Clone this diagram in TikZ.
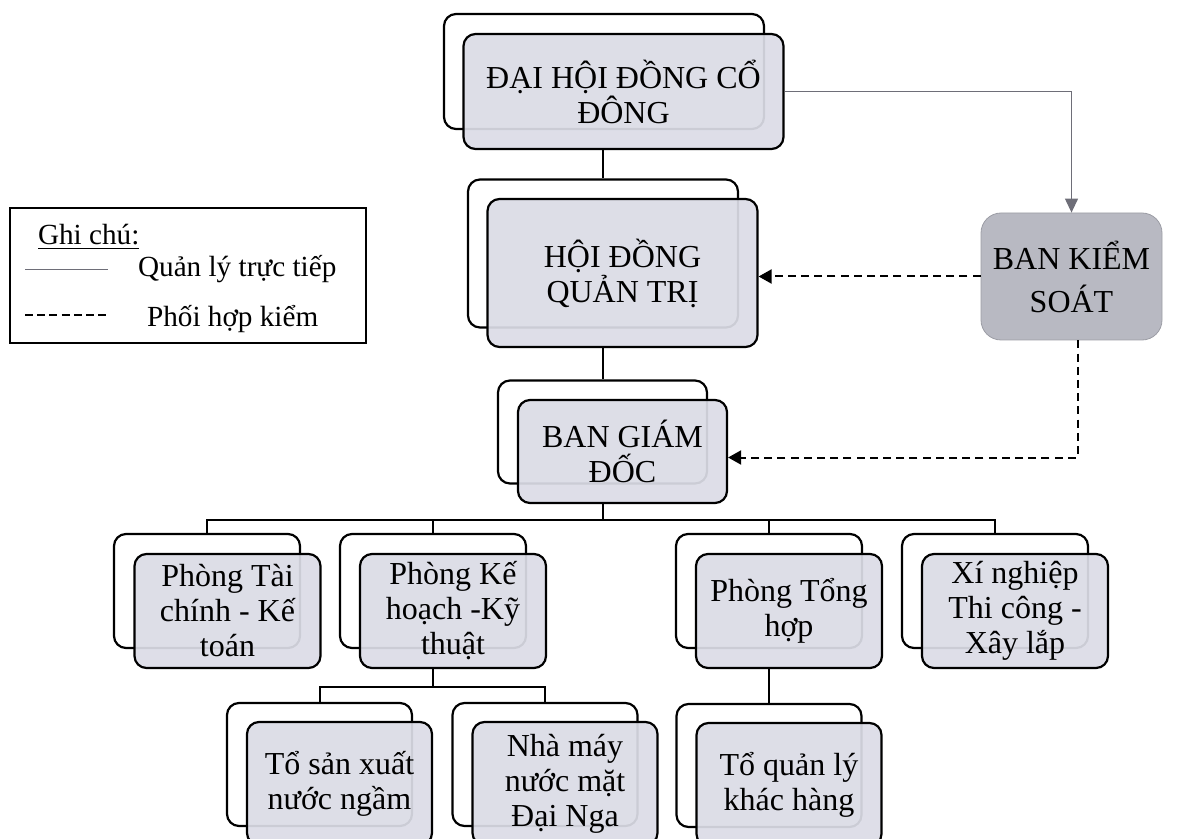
\documentclass[tikz,border=0pt]{standalone}
\usepackage{fontspec}
\setmainfont{Liberation Serif}
\usetikzlibrary{arrows.meta}
\definecolor{boxgray}{RGB}{219,220,230}
\definecolor{ctrlgray}{RGB}{184,185,194}
\definecolor{thinline}{RGB}{110,110,120}
\tikzset{
    backbox/.style 2 args={draw, line width=1.1pt, rounded corners=6pt, fill=white,
        minimum width=#1, minimum height=#2, inner sep=0pt},
    frontbox/.style 2 args={backbox={#1}{#2}, fill=boxgray, fill opacity=0.93, text opacity=1,
        align=center, font=\fontsize{16}{17.5}\selectfont},
    link/.style={line width=1pt},
    coord/.style={line width=1pt, dash pattern=on 4pt off 2.6pt, -{Triangle[width=7pt,length=6.5pt]}},
    direct/.style={line width=0.6pt, thinline, -{Triangle[width=6.5pt,length=7pt]}}
}

\begin{document}
\begin{tikzpicture}[x=0.5pt,y=-0.5pt]
            \useasboundingbox (0,0) rectangle (1188,839);
            \clip (0,0) rectangle (1188,839);

            % Legend
            \node[draw, line width=1pt, minimum width=178pt, minimum height=67.5pt] (legend) at (188,275.5) {};
            \node[anchor=base west, font=\fontsize{14.6}{16}\selectfont] (ghichu) at (31,245) {\underline{Ghi chú:}};
            \node[anchor=base west, font=\fontsize{14.6}{16}\selectfont] (quanly) at (131,277) {Quản lý trực tiếp};
            \node[anchor=base west, font=\fontsize{14.6}{16}\selectfont] (phoihop) at (140,327) {Phối hợp kiểm};
            \coordinate (ql1) at (25,270);
            \coordinate (ph1) at (25,315);
            \draw[thinline, line width=0.5pt] (ql1) -- ++(83,0);
            \draw[link, dash pattern=on 4pt off 2.1pt] (ph1) -- ++(85,0);

            % Top levels
            \node[backbox={160pt}{57.5pt}] (dhdcdB) at (604,71.5) {};
            \node[frontbox={160pt}{57.5pt}] (dhdcd) at (623.5,91.5) {ĐẠI HỘI ĐỒNG CỔ\\ĐÔNG};
            \node[backbox={135pt}{74pt}] (hdqtB) at (603,253.5) {};
            \node[frontbox={135pt}{74pt}] (hdqt) at (622.5,273) {HỘI ĐỒNG\\QUẢN TRỊ};
            \node[backbox={104.5pt}{51.5pt}] (bgdB) at (602.5,432) {};
            \node[frontbox={104.5pt}{51.5pt}] (bgd) at (622.5,451.5) {BAN GIÁM\\ĐỐC};
            \node[draw=ctrlgray!85!black, line width=0.4pt, fill=ctrlgray, rounded corners=10pt,
                minimum width=90.5pt, minimum height=63.5pt, align=center,
                font=\fontsize{16}{21.5}\selectfont] (bks) at (1071.5,276.5) {BAN KIỂM\\SOÁT};

            % Departments
            \node[backbox={93pt}{57pt}] (tcB) at (207,591) {};
            \node[frontbox={93pt}{57pt}] (tc) at (227.5,611) {Phòng Tài\\chính - Kế\\toán};
            \node[backbox={93pt}{57pt}] (khB) at (433,591) {};
            \node[frontbox={93pt}{57pt}] (kh) at (453,611) {Phòng Kế\\hoạch -Kỹ\\thuật};
            \node[backbox={93pt}{57pt}] (thB) at (769,591) {};
            \node[frontbox={93pt}{57pt}] (th) at (789,611) {Phòng Tổng\\hợp};
            \node[backbox={93pt}{57pt}] (xnB) at (995,591) {};
            \node[frontbox={93pt}{57pt}] (xn) at (1015,611) {Xí nghiệp\\Thi công -\\Xây lắp};

            % Units
            \node[backbox={92.5pt}{61.5pt}] (sxB) at (319.5,764.5) {};
            \node[frontbox={92.5pt}{61.5pt}] (sx) at (339.5,783.5) {Tổ sản xuất\\nước ngầm};
            \node[backbox={92.5pt}{61.5pt}] (nmB) at (545,764.5) {};
            \node[frontbox={92.5pt}{61.5pt}] (nm) at (565,783.5) {Nhà máy\\nước mặt\\Đại Nga};
            \node[backbox={92.5pt}{61.5pt}] (qlB) at (769,765.5) {};
            \node[frontbox={92.5pt}{61.5pt}] (ql) at (789,784.5) {Tổ quản lý\\khác hàng};

            % Direct management
            \draw[link] (hdqtB.north |- dhdcd.south) -- (hdqtB.north);
            \draw[link] (bgdB.north |- hdqt.south) -- (bgdB.north);
            \coordinate (bus) at (602,520);
            \draw[link] (bgdB.south |- bgd.south) -- (bgdB.south |- bus);
            \draw[link] (tcB.north) |- (xnB.north |- bus) -- (xnB.north);
            \draw[link] (khB.north) -- (khB.north |- bus);
            \draw[link] (thB.north) -- (thB.north |- bus);
            \coordinate (subbus) at (433,687);
            \draw[link] (khB.south |- kh.south) -- (khB.south |- subbus);
            \draw[link] (sxB.north) |- (nmB.north |- subbus) -- (nmB.north);
            \draw[link] (thB.south |- th.south) -- (qlB.north);
            \draw[direct] (dhdcd.east) -| (bks.north);

            % Control
            \draw[coord] (bks.west) -- (bks.west -| hdqt.east);
            \draw[coord] ([xshift=3pt]bks.south) |- ([yshift=-3pt]bgd.east);
        \end{tikzpicture}
\end{document}
